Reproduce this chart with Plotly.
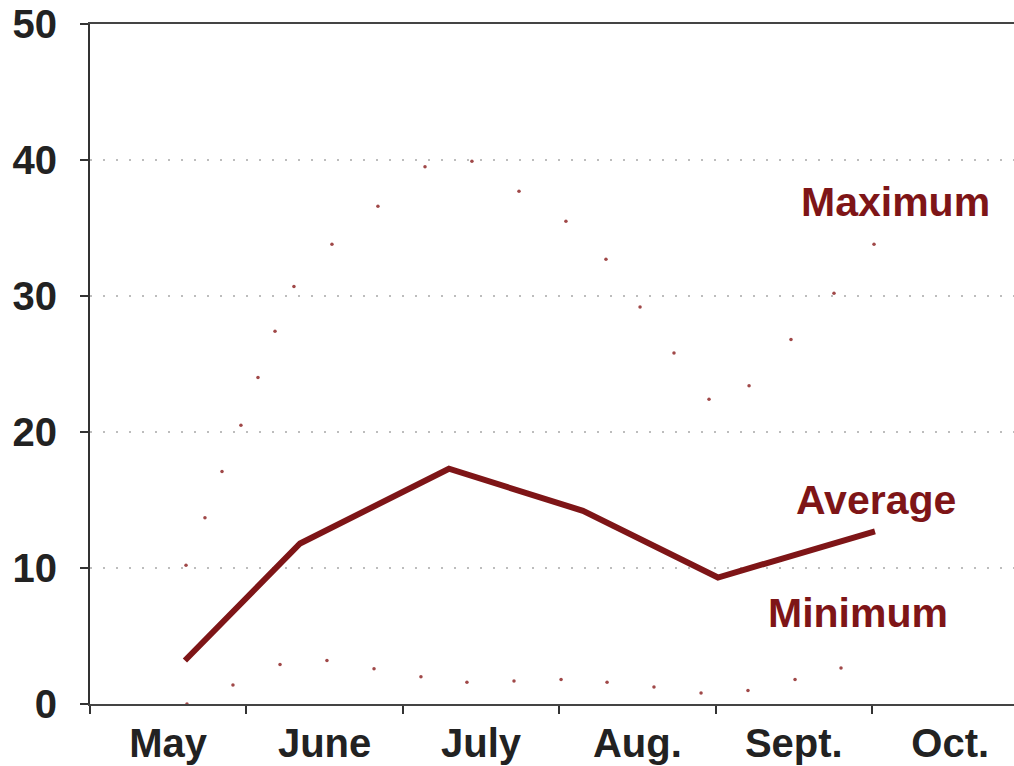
import plotly.graph_objects as go

# Time in months since 1 May (0 = 1 May, 1 = 1 June, ...)
months = ["May", "June", "July", "Aug.", "Sept.", "Oct."]
month_mid = [0.5, 1.5, 2.5, 3.5, 4.5, 5.5]
month_start = [0, 1, 2, 3, 4, 5]

avg_t = [0.607, 1.343, 2.295, 3.152, 4.015, 5.019]
avg_v = [3.2, 11.8, 17.3, 14.2, 9.3, 12.7]

max_t = [0.614, 0.735, 0.844, 0.965, 1.074, 1.183, 1.304, 1.547, 1.841, 2.142,
         2.442, 2.743, 3.043, 3.299, 3.517, 3.734, 3.958, 4.214, 4.482, 4.757, 5.013]
max_v = [10.2, 13.7, 17.1, 20.5, 24.0, 27.4, 30.7, 33.8, 36.6, 39.5,
         39.9, 37.7, 35.5, 32.7, 29.2, 25.8, 22.4, 23.4, 26.8, 30.2, 33.8]

min_t = [0.620, 0.914, 1.215, 1.515, 1.816, 2.116, 2.410, 2.711, 3.012, 3.306,
         3.606, 3.907, 4.207, 4.508, 4.802]
min_v = [0.0, 1.4, 2.9, 3.2, 2.6, 2.0, 1.6, 1.7, 1.8, 1.6, 1.25, 0.8, 1.0, 1.8, 2.65]

y_ticks = [0, 10, 20, 30, 40, 50]

RED = "#7e1517"
FONT = "Liberation Sans, Arial, Helvetica, sans-serif"

fig = go.Figure()
fig.add_trace(go.Scatter(x=max_t, y=max_v, mode="markers",
                         marker=dict(size=3.5, color="#a04848", line=dict(width=0)),
                         hoverinfo="skip", showlegend=False))
fig.add_trace(go.Scatter(x=min_t, y=min_v, mode="markers",
                         marker=dict(size=3.5, color="#a04848", line=dict(width=0)),
                         hoverinfo="skip", showlegend=False))
fig.add_trace(go.Scatter(x=avg_t, y=avg_v, mode="lines",
                         line=dict(color=RED, width=6),
                         showlegend=False))
# dummy trace to activate xaxis2 (label axis)
fig.add_trace(go.Scatter(x=[None], y=[None], xaxis="x2", showlegend=False, hoverinfo="skip"))

xr = [0, 5.908]
fig.update_layout(
    width=1014, height=766,
    margin=dict(l=90, r=0, t=24, b=62),
    paper_bgcolor="white", plot_bgcolor="white",
    font=dict(family=FONT, color="#222222"),
    xaxis=dict(range=xr, tickvals=month_start, showticklabels=False,
               ticks="outside", ticklen=8, tickwidth=2, tickcolor="#333333",
               showline=True, linecolor="#444444", linewidth=2, mirror=True,
               showgrid=False, zeroline=False, automargin=False),
    xaxis2=dict(range=xr, overlaying="x", anchor="y", side="bottom",
                tickvals=month_mid, ticktext=months, ticks="",
                tickfont=dict(size=40, weight="bold", color="#222222", family=FONT),
                ticklabelstandoff=12, automargin=False,
                showline=False, showgrid=False, zeroline=False),
    yaxis=dict(range=[0, 50], tickvals=y_ticks,
               ticks="outside", ticklen=8, tickwidth=2, tickcolor="#333333",
               tickfont=dict(size=40, weight="bold", color="#222222", family=FONT),
               ticklabelstandoff=15, automargin=False,
               showline=True, linecolor="#333333", linewidth=2,
               showgrid=True, gridcolor="#bdbdbd", gridwidth=1.5, griddash="2px,11px",
               zeroline=False),
)

ann_font = dict(size=41, color=RED, family=FONT, weight="bold")
fig.add_annotation(x=5.153, y=36.9, text="Maximum", showarrow=False, font=ann_font,
                   xanchor="center", yanchor="middle")
fig.add_annotation(x=5.026, y=15.0, text="Average", showarrow=False, font=ann_font,
                   xanchor="center", yanchor="middle")
fig.add_annotation(x=4.910, y=6.7, text="Minimum", showarrow=False, font=ann_font,
                   xanchor="center", yanchor="middle")

fig.write_html(
    "out.html",
    config={"displayModeBar": False},
    post_script="document.body.style.margin='0';document.body.style.overflow='hidden';",
)
